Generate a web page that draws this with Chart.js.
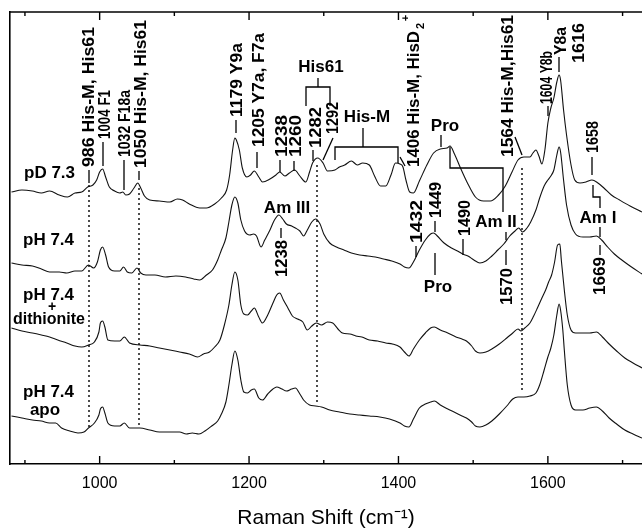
<!DOCTYPE html>
<html>
<head>
<meta charset="utf-8">
<script src="https://cdn.jsdelivr.net/npm/chart.js@4/dist/chart.umd.min.js"></script>
<style>
html,body{margin:0;padding:0;background:#fff;}
canvas{display:block;}
</style>
</head>
<body>
<canvas id="c" width="642" height="531"></canvas>
<script>
// Raman shift (cm-1) and intensity (arbitrary units, stacked offsets) per spectrum
const shiftPD73 = [882,896,910,922,933,946,957,967,976,984,991,996,1000,1004,1008,1013,1020,1027,1031,1035,1040,1046,1051,1055,1060,1067,1080,1094,1104,1111,1120,1134,1143,1154,1163,1170,1174,1178,1181,1183,1187,1191,1197,1202,1207,1213,1218,1228,1236,1241,1248,1254,1261,1268,1276,1281,1285,1292,1299,1305,1315,1321,1328,1337,1345,1352,1361,1368,1376,1383,1390,1396,1402,1406,1410,1415,1420,1428,1438,1447,1456,1465,1469,1475,1483,1493,1503,1514,1523,1534,1543,1552,1560,1568,1576,1580,1584,1588,1592,1596,1600,1604,1608,1612,1615,1617,1621,1625,1631,1636,1643,1651,1659,1667,1675,1685,1696,1710,1726];
const intPD73   = [272,274,273,271,273,269,267,271,272,277,279,284,292,295,287,277,273,271,272,269,270,276,281,276,268,264,263,262,265,264,260,256,256,260,266,274,289,314,326,324,314,296,287,289,293,287,282,285,289,292,288,291,294,288,282,292,301,306,301,293,294,297,299,303,299,301,299,288,278,278,289,301,300,297,284,272,271,283,299,311,315,316,318,310,296,280,267,263,263,269,278,292,304,307,307,311,314,308,300,314,341,356,366,382,389,384,354,329,299,284,281,282,284,281,276,269,264,258,252];

const shiftPH74 = [882,896,910,922,933,946,956,967,976,985,992,997,1001,1004,1008,1012,1020,1027,1032,1037,1043,1050,1055,1062,1074,1088,1102,1115,1126,1134,1143,1151,1158,1163,1169,1173,1177,1181,1185,1189,1194,1201,1206,1210,1216,1221,1228,1234,1240,1245,1250,1257,1262,1268,1273,1278,1284,1289,1295,1300,1308,1317,1327,1337,1348,1359,1369,1380,1391,1402,1408,1414,1420,1428,1436,1443,1447,1452,1461,1471,1479,1486,1493,1501,1509,1517,1525,1533,1541,1549,1556,1561,1566,1572,1577,1584,1589,1595,1600,1604,1608,1612,1615,1617,1621,1625,1631,1637,1647,1656,1665,1672,1680,1689,1699,1710,1726];
const intPH74   = [201,199,198,195,192,192,191,193,193,199,196,202,214,217,209,197,193,193,197,192,191,196,191,189,189,187,188,187,185,184,189,194,204,214,226,242,259,267,261,244,233,229,230,228,217,224,234,244,249,245,240,238,236,233,228,234,242,245,240,230,221,217,214,211,209,208,207,205,203,200,197,196,202,214,224,230,231,228,221,216,213,210,208,204,201,203,208,214,220,228,233,236,232,236,242,254,266,278,284,288,294,309,317,312,284,259,239,230,227,227,228,224,217,210,204,198,190];

const shiftDith = [882,896,910,922,933,944,956,967,976,985,993,999,1001,1004,1007,1011,1020,1027,1033,1040,1054,1067,1080,1094,1107,1120,1131,1139,1147,1154,1161,1167,1173,1177,1181,1185,1189,1193,1198,1203,1207,1213,1218,1225,1232,1237,1241,1246,1252,1258,1265,1272,1278,1284,1290,1297,1305,1312,1319,1325,1335,1343,1351,1361,1372,1383,1392,1402,1408,1414,1420,1428,1436,1443,1448,1456,1466,1477,1485,1491,1498,1503,1509,1517,1525,1535,1545,1553,1560,1564,1569,1576,1581,1586,1592,1597,1601,1605,1609,1613,1616,1618,1622,1626,1631,1637,1647,1656,1665,1673,1682,1692,1703,1714,1726];
const intDith   = [136,133,131,129,127,124,121,118,117,119,122,132,141,143,137,124,123,123,127,121,119,118,116,114,112,110,107,110,112,117,124,139,159,179,192,184,159,150,149,153,156,147,141,149,161,169,171,164,156,148,145,142,134,138,141,139,142,141,135,131,130,128,127,124,123,121,120,117,112,108,115,124,131,136,137,134,131,127,125,123,118,113,111,112,115,120,126,131,135,133,136,141,148,156,166,174,182,189,202,219,220,204,174,149,134,131,131,131,132,127,120,113,106,101,96];

const shiftApo = [882,896,910,922,933,941,949,960,971,979,985,993,999,1001,1004,1007,1011,1020,1027,1033,1040,1054,1067,1080,1094,1107,1116,1124,1133,1141,1150,1158,1163,1169,1173,1177,1181,1185,1189,1193,1198,1203,1207,1213,1218,1225,1232,1237,1244,1250,1257,1262,1268,1273,1281,1289,1297,1308,1321,1335,1348,1361,1375,1388,1402,1408,1414,1420,1428,1436,1443,1448,1456,1466,1477,1485,1491,1498,1503,1509,1517,1525,1535,1545,1553,1560,1568,1576,1584,1589,1595,1600,1604,1608,1612,1615,1617,1620,1622,1626,1631,1637,1647,1656,1665,1673,1682,1692,1703,1714,1726];
const intApo   = [48,46,44,43,41,41,36,33,31,32,36,41,49,55,57,51,41,38,38,41,36,36,34,32,32,32,30,31,30,33,38,43,50,62,79,99,113,104,84,72,71,74,75,66,64,70,75,77,75,73,75,76,70,64,59,58,57,54,52,50,49,48,47,45,41,38,37,45,56,60,62,63,59,55,51,48,46,42,38,37,39,43,50,58,65,67,67,68,71,79,94,107,116,129,149,160,154,134,114,79,59,54,54,56,57,53,46,40,34,30,26];

const seriesNames = ["pD 7.3", "pH 7.4", "pH 7.4 + dithionite", "pH 7.4 apo"];
const xTickValues = [900,1000,1100,1200,1300,1400,1500,1600,1700];
const xTickLabels = ["", "1000", "", "1200", "", "1400", "", "1600", ""];

function zip(xs, ys){ const n=Math.min(xs.length, ys.length); const out=[]; for(let i=0;i<n;i++) out.push({x:xs[i], y:ys[i]}); return out; }

const FONT = '"Liberation Sans", Arial, Helvetica, sans-serif';
Chart.defaults.font.family = FONT;
Chart.defaults.color = '#000';

function mkDs(label, xs, ys){
  return {label, data: zip(xs, ys), borderColor:'#111', borderWidth:1.1, pointRadius:0, fill:false, tension:0.4, cubicInterpolationMode:'monotone'};
}

const annot = {
  id:'annot',
  afterDraw(chart){
    const ctx = chart.ctx, xs = chart.scales.x, a = chart.chartArea;
    ctx.save();
    ctx.strokeStyle = '#000'; ctx.fillStyle = '#000';
    function line(pts, w){ ctx.lineWidth = w||1.3; ctx.beginPath(); ctx.moveTo(pts[0],pts[1]); for(let i=2;i<pts.length;i+=2) ctx.lineTo(pts[i],pts[i+1]); ctx.stroke(); }
    // top frame line and inward ticks
    line([a.left, a.top, a.right, a.top], 1.6);
    for (const v of xTickValues){
      const x = xs.getPixelForValue(v); const L = (v % 200 === 0) ? 8 : 4;
      line([x, a.bottom, x, a.bottom - L], 1.4);
      line([x, a.top, x, a.top + L], 1.4);
    }
    // dotted guide lines
    ctx.setLineDash([2,3]);
    line([89,185,89,427],1.4);
    line([139,188,139,428],1.4);
    line([317,165,317,402],1.4);
    line([522,168,522,392],1.4);
    ctx.setLineDash([]);

    function vtext(t, cx, yb, yt, size){
      ctx.save(); ctx.translate(cx, yb); ctx.rotate(-Math.PI/2);
      ctx.font = 'bold ' + (size||17) + 'px ' + FONT;
      ctx.textBaseline = 'middle'; ctx.textAlign = 'left';
      const w = ctx.measureText(t).width;
      let s = (yb - yt) / w; s = Math.max(0.72, Math.min(1.25, s));
      ctx.scale(s, 1); ctx.fillText(t, 0, 1); ctx.restore();
    }
    function htext(t, cx, cy, size, align){
      ctx.font = 'bold ' + (size||17) + 'px ' + FONT;
      ctx.textAlign = align || 'center'; ctx.textBaseline = 'middle';
      ctx.fillText(t, cx, cy);
    }
    // top spectrum band labels
    vtext('986 His-M, His61', 88, 167, 27); line([89,170,89,183]);
    vtext('1004 F1', 104, 139, 90); line([103,142,103,166]);
    vtext('1032 F18a', 124, 157, 90); line([124,160,124,190]);
    vtext('1050 His-M, His61', 140, 168, 20); line([139,171,139,180]);
    vtext('1179 Y9a', 236, 117, 43); line([236,120,236,133]);
    vtext('1205 Y7a, F7a', 258, 147, 33); line([257,152,257,168]);
    vtext('1238', 281, 157, 115); line([280,160,280,172]);
    vtext('1260', 295, 157, 115); line([294,161,294,171]);
    vtext('1282', 315, 148, 107); line([313,150,313,161]);
    vtext('1292', 332, 134, 102); line([333,138,323,160]);
    vtext('1406 His-M, HisD', 413, 167, 31);
    ctx.font = 'bold 11px ' + FONT; ctx.textAlign='center'; ctx.textBaseline='middle';
    ctx.save(); ctx.translate(421, 26); ctx.rotate(-Math.PI/2); ctx.fillText('2', 0, 0); ctx.restore();
    ctx.save(); ctx.translate(406, 18); ctx.rotate(-Math.PI/2); ctx.fillText('+', 0, 0); ctx.restore();
    line([400,157,405,166]);
    vtext('1564 His-M,His61', 507, 157, 15); line([515,137,522,155]);
    vtext('1604 Y8b', 546, 104, 58); line([548,106,548,116]);
    vtext('Y8a', 560, 55, 27); line([559,57,559,72]);
    vtext('1616', 578, 63, 23);
    vtext('1658', 592, 153, 121); line([592,157,592,175]);
    // brackets and group labels
    htext('His61', 321, 67, 17);
    line([306,106,306,87,330,87,330,106]); line([318,78,318,87]);
    htext('His-M', 367, 117, 17);
    line([335,160,335,147,398,147,398,163]); line([363,128,363,147]);
    htext('Pro', 445, 126, 17); line([441,135,441,147]);
    line([450,147,450,168,503,168,503,212]);
    htext('Am II', 496, 222, 17);
    line([593,185,593,197,600,197,600,208]);
    htext('Am I', 598, 218, 17); line([600,227,600,237]);
    // second spectrum labels
    htext('Am III', 287, 208, 17);
    line([281,228,281,238]); vtext('1238', 281, 277, 240);
    vtext('1432', 416, 243, 200); line([416,246,416,257]);
    vtext('1449', 435, 218, 182); line([435,221,435,232]);
    line([435,253,435,275]); htext('Pro', 438, 287, 17);
    vtext('1490', 464, 236, 200); line([463,239,463,255]);
    line([506,232,506,240]); line([506,250,506,265]); vtext('1570', 506, 305, 268);
    line([600,245,600,255]); vtext('1669', 599, 295, 257);
    // spectrum names
    htext('pD 7.3', 24, 173, 17, 'left');
    htext('pH 7.4', 23, 240, 17, 'left');
    htext('pH 7.4', 23, 295, 17, 'left');
    htext('+', 52, 307, 14);
    htext('dithionite', 49, 320, 16);
    htext('pH 7.4', 23, 392, 17, 'left');
    htext('apo', 45, 410, 17);
    ctx.restore();
  }
};

new Chart(document.getElementById('c'), {
  type:'line',
  data:{ datasets:[
    mkDs(seriesNames[0], shiftPD73, intPD73),
    mkDs(seriesNames[1], shiftPH74, intPH74),
    mkDs(seriesNames[2], shiftDith, intDith),
    mkDs(seriesNames[3], shiftApo, intApo)
  ]},
  options:{
    responsive:false, animation:false, devicePixelRatio:1,
    layout:{padding:{left:10, top:12, right:0, bottom:0}},
    plugins:{legend:{display:false}, tooltip:{enabled:false}},
    scales:{
      x:{type:'linear', min:880, max:1726,
        grid:{display:false, drawTicks:false},
        border:{display:true, color:'#000', width:1.6},
        afterBuildTicks(s){ s.ticks = xTickValues.map(v=>({value:v})); },
        afterFit(s){ s.height = 67; },
        ticks:{autoSkip:false, maxRotation:0, padding:10, color:'#000', font:{size:16},
          callback(v){ const i = xTickValues.indexOf(v); return i>=0 ? xTickLabels[i] : ''; }},
        title:{display:true, text:'Raman Shift (cm\u207B\u00B9)', color:'#000', font:{size:21}, padding:{top:0,bottom:0}}
      },
      y:{type:'linear', min:0, max:452, position:'left',
        grid:{display:false, drawTicks:false},
        border:{display:true, color:'#000', width:1.6},
        ticks:{display:false},
        afterFit(s){ s.width = 0; }
      }
    }
  },
  plugins:[annot]
});
</script>
</body>
</html>
